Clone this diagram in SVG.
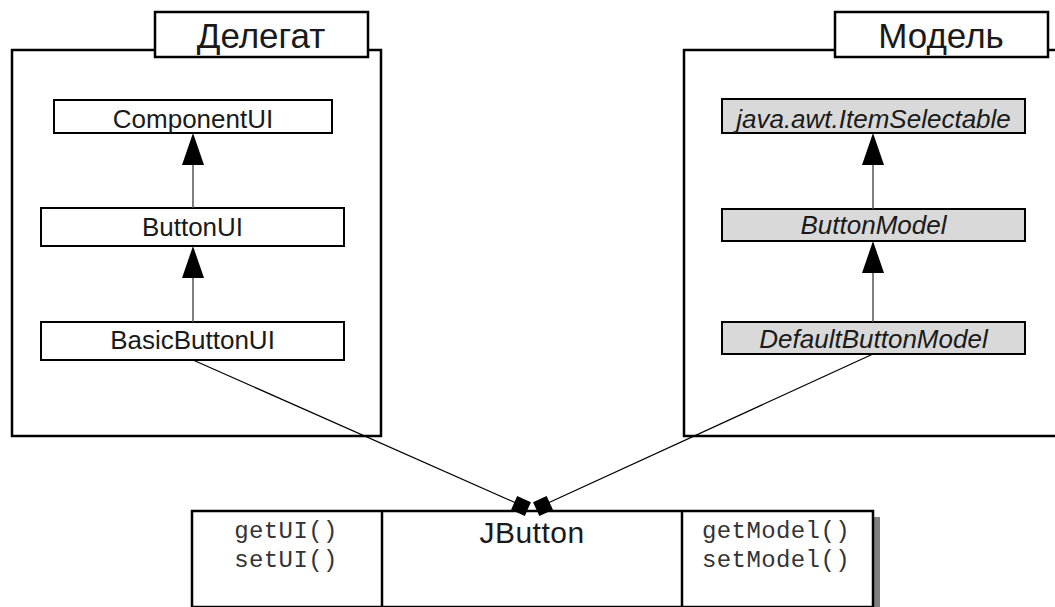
<svg xmlns="http://www.w3.org/2000/svg" width="1055" height="607" viewBox="0 0 1055 607">
<style>
.frame{fill:#fff;stroke:#000;stroke-width:2.5}
.tab{fill:#fff;stroke:#000;stroke-width:2.5}
.cls{fill:#fff;stroke:#000;stroke-width:2}
.iface{fill:#d9d9d9;stroke:#000;stroke-width:2}
.title{font-family:"Liberation Sans",Arial,sans-serif;font-size:35px;fill:#1a1a1a;text-anchor:middle}
.lbl{font-family:"Liberation Sans",Arial,sans-serif;font-size:26px;fill:#1a1a1a;text-anchor:middle}
.ital{font-style:italic}
.mono{font-family:"Liberation Mono","Courier New",monospace;font-size:24px;fill:#333;text-anchor:middle;letter-spacing:0.4px}
.gen{stroke:#555;stroke-width:1.5;fill:none}
.assoc{stroke:#000;stroke-width:1.2;fill:none}
.head{fill:#000}
</style>
<defs>
<polygon id="tri" points="0,0 11,32 -11,32"/>
<rect id="sq" x="-7.5" y="-7.5" width="15" height="15"/>
</defs>

<g id="delegate">
<rect class="frame" x="12" y="50" width="369" height="386"/>
<rect class="tab" x="155" y="12" width="213" height="45"/>
<text class="title" x="261" y="48">Делегат</text>
</g>

<g id="model">
<path class="frame" d="M1058,50 L684,50 L684,436 L1058,436"/>
<rect class="tab" x="835" y="12" width="213" height="45"/>
<text class="title" x="941" y="48">Модель</text>
</g>

<g id="componentui">
<rect class="cls" x="54" y="100" width="278" height="33"/>
<text class="lbl" x="193" y="128">ComponentUI</text>
</g>
<g id="buttonui">
<rect class="cls" x="41" y="208" width="303" height="38"/>
<text class="lbl" x="192.5" y="236">ButtonUI</text>
</g>
<g id="basicbuttonui">
<rect class="cls" x="41" y="322" width="303" height="38"/>
<text class="lbl" x="192.5" y="349">BasicButtonUI</text>
</g>

<g id="itemselectable">
<rect class="iface" x="722" y="99" width="303" height="34"/>
<text class="lbl ital" x="873.5" y="128">java.awt.ItemSelectable</text>
</g>
<g id="buttonmodel">
<rect class="iface" x="722" y="209" width="303" height="32"/>
<text class="lbl ital" x="873.5" y="234">ButtonModel</text>
</g>
<g id="defaultbuttonmodel">
<rect class="iface" x="722" y="322" width="303" height="32"/>
<text class="lbl ital" x="873.5" y="348">DefaultButtonModel</text>
</g>

<g id="jbutton">
<rect x="198" y="517" width="682" height="95" fill="#808080"/>
<rect fill="#fff" stroke="#000" stroke-width="2.5" x="192" y="511" width="681" height="96"/>
<line stroke="#000" stroke-width="2.5" x1="382" y1="511" x2="382" y2="607"/>
<line stroke="#000" stroke-width="2.5" x1="682" y1="511" x2="682" y2="607"/>
<text class="mono" x="286" y="538">getUI()</text>
<text class="mono" x="286" y="567">setUI()</text>
<text class="lbl" x="532" y="543" style="font-size:30px;letter-spacing:0.5px">JButton</text>
<text class="mono" x="776" y="538">getModel()</text>
<text class="mono" x="776" y="567">setModel()</text>
</g>

<g id="connectors">
<line class="gen" x1="193" y1="208" x2="193" y2="150"/>
<use href="#tri" class="head" x="193" y="133"/>
<line class="gen" x1="193" y1="322" x2="193" y2="265"/>
<use href="#tri" class="head" x="193" y="246"/>
<line class="gen" x1="873" y1="209" x2="873" y2="150"/>
<use href="#tri" class="head" x="873" y="133"/>
<line class="gen" x1="873" y1="322" x2="873" y2="260"/>
<use href="#tri" class="head" x="873" y="241"/>
<line class="assoc" x1="193" y1="360" x2="516" y2="503"/>
<use href="#sq" class="head" transform="translate(521,506) rotate(24)"/>
<line class="assoc" x1="873" y1="354" x2="548" y2="503"/>
<use href="#sq" class="head" transform="translate(543,506) rotate(-25)"/>
</g>
</svg>
